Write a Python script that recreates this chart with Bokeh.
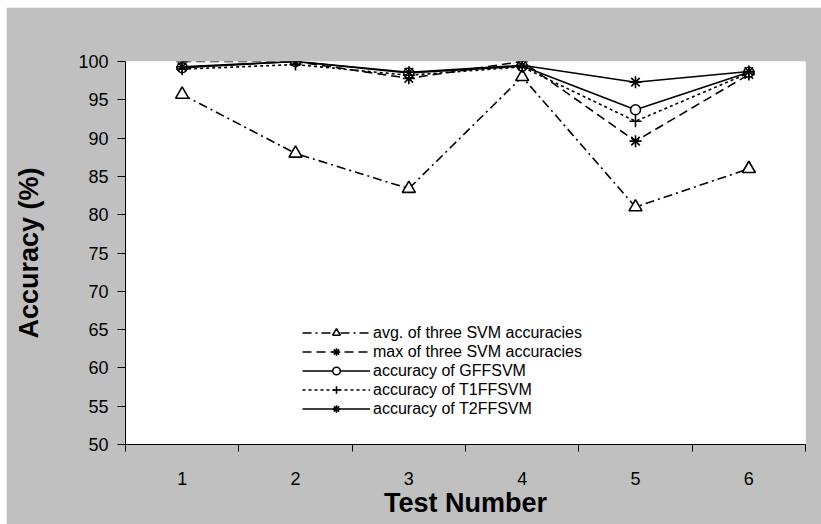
from bokeh.plotting import figure
from bokeh.models import FixedTicker, Legend, LegendItem
from bokeh.embed import file_html
from bokeh.resources import INLINE

tests = [1, 2, 3, 4, 5, 6]
tick_labels = ["1", "2", "3", "4", "5", "6"]
avg_svm = [95.7, 88.0, 83.4, 98.0, 81.0, 86.0]
max_svm = [100.0, 100.0, 97.8, 100.0, 89.6, 98.3]
gffsvm = [99.2, 100.0, 98.5, 99.4, 93.7, 98.6]
t1ffsvm = [99.0, 99.6, 98.2, 99.3, 92.2, 98.5]
t2ffsvm = [99.3, 100.0, 98.6, 99.5, 97.3, 98.7]

FONT = "Liberation Sans"
GRAY = "#c0c0c0"

p = figure(width=815, height=517, output_backend="svg", toolbar_location=None,
           x_range=(0.5, 6.5), y_range=(50, 100),
           min_border_left=119, min_border_right=16, min_border_top=54, min_border_bottom=80)
p.margin = (7, 0, 0, 6)
p.border_fill_color = GRAY
p.background_fill_color = "white"
p.outline_line_color = None
p.xgrid.visible = False
p.ygrid.visible = False

# x axis
p.xaxis.ticker = FixedTicker(ticks=tests, minor_ticks=[0.5, 1.5, 2.5, 3.5, 4.5, 5.5, 6.5])
p.xaxis.major_label_overrides = {t: l for t, l in zip(tests, tick_labels)}
p.xaxis.major_tick_out = 0
p.xaxis.major_tick_in = 0
p.xaxis.minor_tick_out = 7
p.xaxis.minor_tick_in = 0
p.xaxis.major_label_standoff = 20
p.xaxis.axis_label = "Test Number"
p.xaxis.axis_label_standoff = 0

# y axis
p.yaxis.ticker = FixedTicker(ticks=list(range(50, 101, 5)))
p.yaxis.major_tick_out = 8
p.yaxis.major_tick_in = 0
p.yaxis.minor_tick_out = 0
p.yaxis.minor_tick_in = 0
p.yaxis.major_label_standoff = 9
p.yaxis.axis_label = "Accuracy (%)"
p.yaxis.axis_label_standoff = 31

for ax in (p.xaxis[0], p.yaxis[0]):
    ax.axis_line_color = "black"
    ax.major_tick_line_color = "black"
    ax.minor_tick_line_color = "black"
    ax.major_label_text_font = FONT
    ax.major_label_text_font_size = "18px"
    ax.major_label_text_color = "black"
    ax.axis_label_text_font = FONT
    ax.axis_label_text_font_size = "27px"
    ax.axis_label_text_font_style = "bold"
    ax.axis_label_text_color = "black"

LW = 1.6
items = []

r1 = p.line(tests, avg_svm, line_color="black", line_width=LW, line_dash="9 4 2 4")
m1 = p.scatter(tests, avg_svm, marker="triangle", size=13, line_color="black", fill_color="white", line_width=1.6)
items.append(LegendItem(label="avg. of three SVM accuracies", renderers=[r1, m1]))

r2 = p.line(tests, max_svm, line_color="black", line_width=LW, line_dash="9 5")
m2 = p.scatter(tests, max_svm, marker="asterisk", size=12, line_color="black", line_width=1.6)
items.append(LegendItem(label="max of three SVM accuracies", renderers=[r2, m2]))

r3 = p.line(tests, gffsvm, line_color="black", line_width=LW)
m3 = p.scatter(tests, gffsvm, marker="circle", size=10, line_color="black", fill_color="white", line_width=1.5)
items.append(LegendItem(label="accuracy of GFFSVM", renderers=[r3, m3]))

r4 = p.line(tests, t1ffsvm, line_color="black", line_width=LW, line_dash="3 3")
m4 = p.scatter(tests, t1ffsvm, marker="cross", size=12, line_color="black", line_width=1.6)
items.append(LegendItem(label="accuracy of T1FFSVM", renderers=[r4, m4]))

r5 = p.line(tests, t2ffsvm, line_color="black", line_width=LW)
m5 = p.scatter(tests, t2ffsvm, marker="asterisk", size=12, line_color="black", line_width=1.6)
items.append(LegendItem(label="accuracy of T2FFSVM", renderers=[r5, m5]))

legend = Legend(items=items, location=(177, 26), orientation="vertical",
                padding=0, margin=0, spacing=0, glyph_width=68, glyph_height=19,
                label_height=19, label_standoff=3,
                label_text_font=FONT, label_text_font_size="16px", label_text_color="black",
                background_fill_alpha=0, border_line_color=None)
p.add_layout(legend, "center")

open("out.html", "w").write(file_html(p, INLINE))
